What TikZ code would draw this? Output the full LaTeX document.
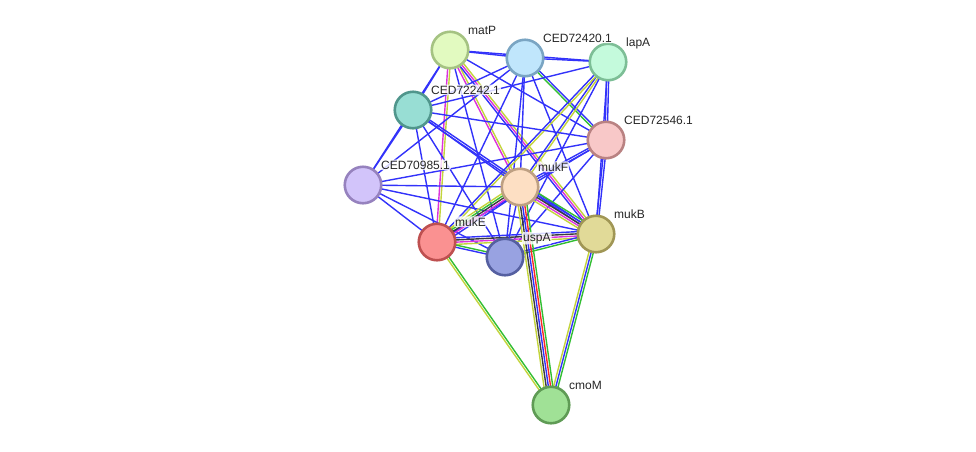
\documentclass[tikz,border=0pt]{standalone}
\usepackage{fontspec}
\setmainfont{Liberation Sans}
\usetikzlibrary{calc, backgrounds}
\definecolor{sblue}{RGB}{50, 50, 250}
\definecolor{syellow}{RGB}{195, 212, 60}
\definecolor{smagenta}{RGB}{220, 50, 220}
\definecolor{sgreen}{RGB}{50, 190, 50}
\definecolor{sblack}{RGB}{60, 60, 60}
\definecolor{sred}{RGB}{250, 40, 40}

% one link = parallel strokes, one per evidence colour
\newcommand{\lnk}[3]{%
  \foreach \c [count=\n] in {#3} {\xdef\lnkcount{\n}}
  \foreach \c [count=\i] in {#3} {
    \pgfmathsetmacro{\off}{(\i-(\lnkcount+1)/2)*2.2}
    \draw[edge, draw=\c] ($(#1.center)!\off pt!90:(#2.center)$) -- ($(#2.center)!\off pt!-90:(#1.center)$);
  }
}

\begin{document}
\begin{tikzpicture}[
  x=1pt, y=-1pt,
  prot/.style={circle, minimum size=36.5pt, inner sep=0pt, line width=2.6pt},
  lbl/.style={anchor=base west, inner xsep=1pt, inner ysep=1pt, rounded corners=2pt, fill=white, fill opacity=0.8, text opacity=1, font=\fontsize{12}{14}\selectfont, text=black!85},
  edge/.style={line width=1.4pt}
]
\useasboundingbox (0,0) rectangle (976,451);

\node[prot, fill={rgb,255:red,226;green,250;blue,192}, draw={rgb,255:red,165;green,195;blue,130}] (matP) at (450,50) {};
\node[prot, fill={rgb,255:red,192;green,230;blue,252}, draw={rgb,255:red,122;green,165;blue,195}] (c420) at (525,58) {};
\node[prot, fill={rgb,255:red,196;green,250;blue,220}, draw={rgb,255:red,125;green,190;blue,150}] (lapA) at (608,62) {};
\node[prot, fill={rgb,255:red,152;green,222;blue,212}, draw={rgb,255:red,80;green,150;blue,140}] (c242) at (413,110) {};
\node[prot, fill={rgb,255:red,248;green,200;blue,200}, draw={rgb,255:red,185;green,130;blue,130}] (c546) at (606,140) {};
\node[prot, fill={rgb,255:red,210;green,196;blue,250}, draw={rgb,255:red,150;green,130;blue,190}] (c985) at (363,185) {};
\node[prot, fill={rgb,255:red,253;green,223;blue,195}, draw={rgb,255:red,190;green,160;blue,130}] (mukF) at (520,187) {};
\node[prot, fill={rgb,255:red,250;green,145;blue,145}, draw={rgb,255:red,190;green,80;blue,80}] (mukE) at (437,242) {};
\node[prot, fill={rgb,255:red,152;green,162;blue,225}, draw={rgb,255:red,85;green,95;blue,160}] (uspA) at (505,257) {};
\node[prot, fill={rgb,255:red,225;green,218;blue,152}, draw={rgb,255:red,160;green,150;blue,85}] (mukB) at (596,234) {};
\node[prot, fill={rgb,255:red,160;green,225;blue,150}, draw={rgb,255:red,95;green,155;blue,85}] (cmoM) at (551,405) {};

% labels
\node[lbl] (matP-l) at ($(matP.center)+(17,-16)$) {matP};
\node[lbl] (c420-l) at ($(c420.center)+(17,-16)$) {CED72420.1};
\node[lbl] (lapA-l) at ($(lapA.center)+(17,-16)$) {lapA};
\node[lbl] (c242-l) at ($(c242.center)+(17,-16)$) {CED72242.1};
\node[lbl] (c546-l) at ($(c546.center)+(17,-16)$) {CED72546.1};
\node[lbl] (c985-l) at ($(c985.center)+(17,-16)$) {CED70985.1};
\node[lbl] (mukF-l) at ($(mukF.center)+(17,-16)$) {mukF};
\node[lbl] (mukE-l) at ($(mukE.center)+(17,-16)$) {mukE};
\node[lbl] (uspA-l) at ($(uspA.center)+(17,-16)$) {uspA};
\node[lbl] (mukB-l) at ($(mukB.center)+(17,-16)$) {mukB};
\node[lbl] (cmoM-l) at ($(cmoM.center)+(17,-16)$) {cmoM};

\begin{scope}[on background layer]
\lnk{matP}{c420}{sblue}
\lnk{matP}{lapA}{sblue}
\lnk{matP}{c242}{sblue}
\lnk{matP}{c985}{sblue}
\lnk{matP}{mukE}{smagenta, syellow}
\lnk{matP}{mukF}{smagenta, syellow}
\lnk{matP}{mukB}{sblue, smagenta, syellow}
\lnk{matP}{uspA}{sblue}
\lnk{matP}{c546}{sblue}
\lnk{c420}{lapA}{sblue}
\lnk{c420}{c546}{sgreen, sblue}
\lnk{c420}{c242}{sblue}
\lnk{c420}{c985}{sblue}
\lnk{c420}{mukF}{sblue}
\lnk{c420}{uspA}{sblue}
\lnk{c420}{mukB}{sblue}
\lnk{c420}{mukE}{sblue}
\lnk{lapA}{c546}{sblue, sblue}
\lnk{lapA}{c242}{sblue}
\lnk{lapA}{mukF}{sblue, syellow}
\lnk{lapA}{mukE}{sblue, syellow}
\lnk{lapA}{uspA}{sblue}
\lnk{lapA}{mukB}{sblue}
\lnk{c242}{c985}{sblue}
\lnk{c242}{c546}{sblue}
\lnk{c242}{mukF}{sblue}
\lnk{c242}{mukE}{sblue}
\lnk{c242}{uspA}{sblue}
\lnk{c242}{mukB}{sblue, sblue}
\lnk{c546}{mukF}{sblue, sblue}
\lnk{c546}{mukE}{sblue}
\lnk{c546}{uspA}{sblue}
\lnk{c546}{mukB}{sblue, sblue}
\lnk{c546}{c985}{sblue}
\lnk{c985}{mukF}{sblue}
\lnk{c985}{mukE}{sblue}
\lnk{c985}{uspA}{sblue}
\lnk{c985}{mukB}{sblue}
\lnk{mukF}{mukE}{syellow, sgreen, sblack, smagenta, sblue}
\lnk{mukF}{mukB}{syellow, smagenta, sblack, sblue, sgreen}
\lnk{mukE}{mukB}{syellow, smagenta, sblack, sblue}
\lnk{mukE}{uspA}{sblue, sgreen}
\lnk{uspA}{mukB}{sgreen, sblue}
\lnk{uspA}{mukF}{sblue}
\lnk{mukF}{cmoM}{syellow, sblack, sblue, sred, sgreen}
\lnk{mukB}{cmoM}{syellow, sblue, sgreen}
\lnk{mukE}{cmoM}{syellow, sgreen}
\end{scope}
\end{tikzpicture}
\end{document}
